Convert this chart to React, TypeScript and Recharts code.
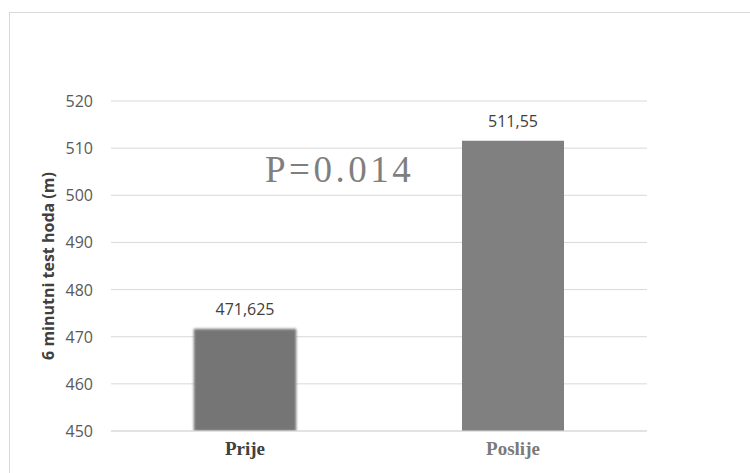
import React from "react";
import {
  BarChart,
  Bar,
  Cell,
  XAxis,
  YAxis,
  CartesianGrid,
  LabelList,
  Customized,
} from "recharts";

// Mjerenja 6-minutnog testa hoda prije i poslije programa
const categories = ["Prije", "Poslije"];
const values = [471.625, 511.55];
const valueLabels = ["471,625", "511,55"];
const yTicks = [450, 460, 470, 480, 490, 500, 510, 520];
const categoryColors = ["#404040", "#7a7a7a"];
const pValueText = "P=0.014";

const data = categories.map((name, i) => ({
  name,
  value: values[i],
  label: valueLabels[i],
}));

const CategoryTick = (props: any) => {
  const { x, y, payload, index } = props;
  return (
    <text
      x={x}
      y={y}
      dy={24}
      textAnchor="middle"
      fontFamily="'Liberation Serif', 'Times New Roman', serif"
      fontWeight={700}
      fontSize={19}
      fill={categoryColors[index] ?? "#404040"}
    >
      {payload.value}
    </text>
  );
};

const ValueTick = (props: any) => {
  const { y, payload } = props;
  return (
    <text
      x={85}
      y={y}
      textAnchor="end"
      dominantBaseline="central"
      fontFamily="'Open Sans', sans-serif"
      fontSize={16}
      fill="#595959"
    >
      {payload.value}
    </text>
  );
};

const Annotations = () => (
  <g>
    <text
      x={39.5}
      y={258}
      transform="rotate(-90, 39.5, 258)"
      textAnchor="middle"
      dominantBaseline="central"
      fontFamily="'Open Sans', sans-serif"
      fontWeight={700}
      fontSize={16}
      fill="#404040"
    >
      6 minutni test hoda (m)
    </text>
    <text
      x={257}
      y={174}
      fontFamily="'Liberation Serif', 'Times New Roman', serif"
      fontSize={37}
      letterSpacing={3.5}
      fill="#7f7f7f"
    >
      {pValueText}
    </text>
  </g>
);

const App: React.FC = () => {
  return (
    <div
      style={{
        position: "fixed",
        left: 0,
        top: 0,
        width: 750,
        height: 473,
        overflow: "hidden",
        background: "#fff",
      }}
    >
      <div
        style={{
          position: "absolute",
          left: 9,
          top: 12,
          width: 800,
          height: 500,
          border: "1px solid #d9d9d9",
        }}
      />
      <div style={{ position: "absolute", left: 8, top: 8 }}>
        <BarChart
          width={742}
          height={465}
          data={data}
          margin={{ top: 93, right: 103, bottom: 0, left: 0 }}
        >
          <CartesianGrid vertical={false} stroke="#d9d9d9" strokeWidth={1} />
          <XAxis
            dataKey="name"
            height={42}
            tickLine={false}
            tickSize={0}
            tickMargin={0}
            axisLine={{ stroke: "#d9d9d9" }}
            tick={<CategoryTick />}
          />
          <YAxis
            width={103}
            domain={[450, 520]}
            ticks={yTicks}
            allowDataOverflow
            axisLine={false}
            tickLine={false}
            tick={<ValueTick />}
          />
          <Bar dataKey="value" barSize={102} isAnimationActive={false}>
            <Cell fill="#757575" stroke="#9a9a9a" strokeWidth={1} style={{ filter: "blur(0.8px)" }} />
            <Cell fill="#808080" />
            <LabelList
              dataKey="label"
              position="top"
              offset={14}
              fill="#404040"
              fontSize={16}
              fontFamily="'Open Sans', sans-serif"
            />
          </Bar>
          <Customized component={Annotations} />
        </BarChart>
      </div>
    </div>
  );
};

export default App;
